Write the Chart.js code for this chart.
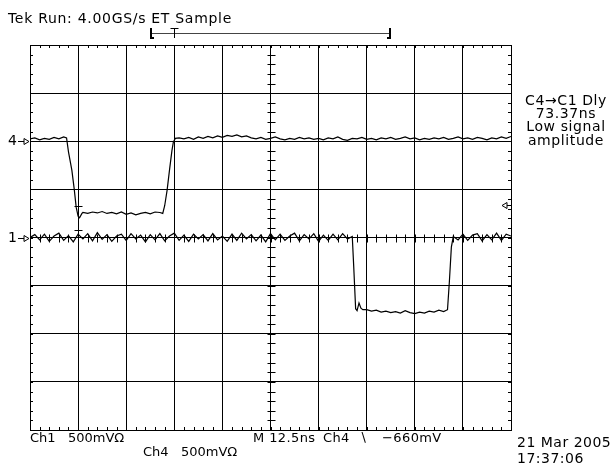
<!DOCTYPE html>
<html>
<head>
<meta charset="utf-8">
<title>Tek scope capture</title>
<script src="https://cdn.jsdelivr.net/npm/chart.js@4.4.0/dist/chart.umd.min.js"></script>
<style>
  html, body { margin: 0; padding: 0; background: #fff; }
  canvas { display: block; }
</style>
</head>
<body>
<canvas id="scope" width="611" height="465"></canvas>
<script>
// time in divisions (12.5 ns/div), level in divisions (500 mV/div)
const ch4Time = [0, 0.1, 0.2, 0.3, 0.4, 0.5, 0.6, 0.7, 0.76, 0.8, 0.87, 0.92, 0.96, 1.0, 1.03, 1.08,
  1.1, 1.2, 1.3, 1.4, 1.5, 1.6, 1.7, 1.8, 1.9, 2.0, 2.1, 2.2, 2.3, 2.4, 2.5, 2.6, 2.7,
  2.76, 2.8, 2.85, 2.9, 2.95, 2.98, 3.02,
  3.1, 3.2, 3.3, 3.4, 3.5, 3.6, 3.7, 3.8, 3.9, 4.0, 4.1, 4.2, 4.3, 4.4, 4.5, 4.6, 4.7, 4.8, 4.9,
  5.0, 5.1, 5.2, 5.3, 5.4, 5.5, 5.6, 5.7, 5.8, 5.9, 6.0, 6.1, 6.2, 6.3, 6.4, 6.5, 6.6, 6.7, 6.8, 6.9,
  7.0, 7.1, 7.2, 7.3, 7.4, 7.5, 7.6, 7.7, 7.8, 7.9, 8.0, 8.1, 8.2, 8.3, 8.4, 8.5, 8.6, 8.7, 8.8, 8.9,
  9.0, 9.1, 9.2, 9.3, 9.4, 9.5, 9.6, 9.7, 9.8, 9.9, 10.0];
const ch4Level = [2.05, 2.07, 2.03, 2.06, 2.04, 2.08, 2.05, 2.09, 2.07, 1.78, 1.40, 1.00, 0.63, 0.44, 0.41, 0.50,
  0.52, 0.50, 0.53, 0.51, 0.54, 0.50, 0.52, 0.49, 0.53, 0.48, 0.51, 0.47, 0.50, 0.52, 0.49, 0.53, 0.52,
  0.50, 0.66, 0.98, 1.40, 1.80, 1.98, 2.06,
  2.07, 2.05, 2.08, 2.04, 2.09, 2.06, 2.10, 2.07, 2.11, 2.08, 2.12, 2.10, 2.13, 2.09, 2.11, 2.07, 2.05, 2.08, 2.04,
  2.06, 2.09, 2.05, 2.03, 2.06, 2.04, 2.08, 2.05, 2.07, 2.04, 2.06, 2.03, 2.07, 2.05, 2.09, 2.04, 2.02, 2.06, 2.05, 2.08,
  2.04, 2.06, 2.03, 2.07, 2.05, 2.08, 2.04, 2.06, 2.09, 2.05, 2.07, 2.03, 2.06, 2.04, 2.07, 2.05, 2.08, 2.04, 2.06, 2.09,
  2.05, 2.07, 2.04, 2.08, 2.06, 2.03, 2.07, 2.05, 2.09, 2.06, 2.10];

const ch1Time = [0, 0.1, 0.2, 0.3, 0.4, 0.5, 0.6, 0.7, 0.8, 0.9, 1.0, 1.1, 1.2, 1.3, 1.4, 1.5, 1.6, 1.7, 1.8, 1.9,
  2.0, 2.1, 2.2, 2.3, 2.4, 2.5, 2.6, 2.7, 2.8, 2.9, 3.0, 3.1, 3.2, 3.3, 3.4, 3.5, 3.6, 3.7, 3.8, 3.9,
  4.0, 4.1, 4.2, 4.3, 4.4, 4.5, 4.6, 4.7, 4.8, 4.9, 5.0, 5.1, 5.2, 5.3, 5.4, 5.5, 5.6, 5.7, 5.8, 5.9,
  6.0, 6.1, 6.2, 6.3, 6.4, 6.5, 6.6, 6.7, 6.73, 6.77, 6.8, 6.84, 6.88, 6.92,
  7.0, 7.1, 7.2, 7.3, 7.4, 7.5, 7.6, 7.7, 7.8, 7.9, 8.0, 8.1, 8.2, 8.3, 8.4, 8.5, 8.6, 8.68, 8.72, 8.76, 8.8,
  8.9, 9.0, 9.1, 9.2, 9.3, 9.4, 9.5, 9.6, 9.7, 9.8, 9.9, 10.0];
const ch1Level = [0.00, 0.06, -0.05, 0.07, -0.08, 0.03, 0.09, -0.06, 0.04, -0.09, 0.07, -0.03, 0.08, -0.07, 0.10, -0.04, 0.06, -0.08, 0.03, 0.07,
  -0.06, 0.08, -0.03, 0.05, -0.09, 0.06, -0.05, 0.08, -0.07, 0.03, 0.09, -0.06, 0.05, -0.08, 0.07, -0.03, 0.06, -0.07, 0.08, -0.05,
  0.03, -0.08, 0.07, -0.06, 0.09, -0.03, 0.06, -0.07, 0.05, -0.09, 0.08, -0.05, 0.07, -0.06, 0.03, 0.09, -0.07, 0.06, -0.03, 0.08,
  -0.08, 0.05, -0.06, 0.07, -0.05, 0.08, -0.03, 0.02, -0.60, -1.48, -1.52, -1.36, -1.47, -1.50,
  -1.50, -1.53, -1.51, -1.55, -1.53, -1.56, -1.54, -1.57, -1.52, -1.56, -1.58, -1.55, -1.57, -1.53, -1.55, -1.51, -1.54, -1.50, -0.90, -0.20, 0.02,
  -0.05, 0.07, -0.06, 0.05, 0.08, -0.07, 0.06, -0.05, 0.09, -0.06, 0.07, 0.03];

const xTicks = [0, 1, 2, 3, 4, 5, 6, 7, 8, 9, 10];
const yTicks = [-4, -3, -2, -1, 0, 1, 2, 3, 4];
const ch4Ground = 2;
const ch1Ground = 0;
const trigLevel = 0.68;
const trigPos = 3.0;

const FONT = '"DejaVu Sans", sans-serif';

function toPoints(ts, vs) {
  return ts.map((t, i) => ({ x: t, y: vs[i] }));
}

function text(ctx, s, x, y, size, spacing) {
  ctx.font = size + 'px ' + FONT;
  ctx.letterSpacing = spacing + 'px';
  ctx.fillText(s, x, y);
}

// graticule minor ticks (every 0.2 div on edges and centre lines)
const graticule = {
  id: 'graticule',
  beforeDatasetsDraw(chart) {
    const { ctx, chartArea: a, scales: { x, y } } = chart;
    const cx = Math.round(x.getPixelForValue(5)) + 0.5;
    const cy = Math.round(y.getPixelForValue(0)) + 0.5;
    ctx.save();
    ctx.strokeStyle = '#000';
    ctx.lineWidth = 1;
    ctx.beginPath();
    for (let k = 1; k < 50; k++) {
      const px = Math.round(x.getPixelForValue(k * 0.2)) + 0.5;
      ctx.moveTo(px, a.top); ctx.lineTo(px, a.top + 3);
      ctx.moveTo(px, a.bottom); ctx.lineTo(px, a.bottom - 3);
      ctx.moveTo(px, cy - 4); ctx.lineTo(px, cy + 4);
    }
    for (let k = 1; k < 40; k++) {
      const py = Math.round(y.getPixelForValue(-4 + k * 0.2)) + 0.5;
      ctx.moveTo(a.left, py); ctx.lineTo(a.left + 3, py);
      ctx.moveTo(a.right, py); ctx.lineTo(a.right - 3, py);
      ctx.moveTo(cx - 4, py); ctx.lineTo(cx + 4, py);
    }
    ctx.stroke();
    ctx.restore();
  }
};

// readouts and markers around the graticule
const readouts = {
  id: 'readouts',
  afterDraw(chart) {
    const { ctx, chartArea: a, scales: { x, y } } = chart;
    ctx.save();
    ctx.fillStyle = '#000';
    ctx.strokeStyle = '#000';
    ctx.lineWidth = 1;
    ctx.textBaseline = 'alphabetic';
    ctx.textAlign = 'left';
    text(ctx, 'Tek Run: 4.00GS/s ET Sample', 8, 23, 14, 0.7);

    // record window bracket + trigger position
    const tx = Math.round(x.getPixelForValue(trigPos)) + 0.5;
    ctx.strokeStyle = '#444';
    ctx.beginPath();
    ctx.moveTo(151, 33.5); ctx.lineTo(390, 33.5);
    ctx.stroke();
    ctx.strokeStyle = '#000';
    ctx.lineWidth = 2;
    ctx.beginPath();
    ctx.moveTo(151, 28); ctx.lineTo(151, 39);
    ctx.moveTo(151, 38); ctx.lineTo(154, 38);
    ctx.moveTo(390, 28); ctx.lineTo(390, 39);
    ctx.moveTo(390, 38); ctx.lineTo(387, 38);
    ctx.stroke();
    ctx.lineWidth = 1;
    ctx.beginPath();
    ctx.moveTo(tx - 4, 28.5); ctx.lineTo(tx + 4, 28.5);
    ctx.moveTo(tx, 28); ctx.lineTo(tx, 38);
    ctx.stroke();

    // channel ground markers
    [[ '4', ch4Ground ], [ '1', ch1Ground ]].forEach(([lab, lv]) => {
      const py = Math.round(y.getPixelForValue(lv)) + 0.5;
      ctx.textBaseline = 'middle';
      text(ctx, lab, 8, py, 14, 0);
      ctx.beginPath();
      ctx.moveTo(18, py); ctx.lineTo(24, py);
      ctx.moveTo(24, py - 3); ctx.lineTo(29, py); ctx.lineTo(24, py + 3); ctx.closePath();
      ctx.stroke();
    });

    // trigger level marker
    const ly = Math.round(y.getPixelForValue(trigLevel)) + 0.5;
    ctx.beginPath();
    ctx.moveTo(a.right - 9, ly); ctx.lineTo(a.right - 4, ly - 3); ctx.lineTo(a.right - 4, ly + 3); ctx.closePath();
    ctx.moveTo(a.right - 4, ly); ctx.lineTo(a.right, ly);
    ctx.stroke();

    // cursor marks
    const mx = Math.round(x.getPixelForValue(1.0)) + 0.5;
    const m4 = Math.round(y.getPixelForValue(0.65)) + 0.5;
    const m1 = Math.round(y.getPixelForValue(0.15)) + 0.5;
    ctx.beginPath();
    ctx.moveTo(mx - 4, m4); ctx.lineTo(mx + 4, m4);
    ctx.moveTo(mx, m4 - 3); ctx.lineTo(mx, m4 + 8);
    ctx.moveTo(mx - 4, m1); ctx.lineTo(mx + 4, m1);
    ctx.moveTo(mx, m1); ctx.lineTo(mx, m1 + 8);
    ctx.stroke();

    // right side measurement readout
    ctx.textBaseline = 'alphabetic';
    ctx.textAlign = 'center';
    text(ctx, 'C4\u2192C1 Dly', 566, 105, 14, 0.6);
    text(ctx, '73.37ns', 566, 118, 14, 0.6);
    text(ctx, 'Low signal', 566, 131, 14, 0.6);
    text(ctx, 'amplitude', 566, 145, 14, 0.6);

    // bottom readouts
    ctx.textAlign = 'left';
    text(ctx, 'Ch1   500mV\u03a9', 30, 442, 13, 0);
    text(ctx, 'Ch4   500mV\u03a9', 143, 456, 13, 0);
    text(ctx, 'M 12.5ns', 253, 442, 13, 0.4);
    text(ctx, 'Ch4', 323, 442, 13, 0.4);
    text(ctx, '\u2216', 359, 442, 13, 0);
    text(ctx, '\u2212660mV', 382, 442, 13, 0.4);
    text(ctx, '21 Mar 2005', 517, 447, 14, 0.5);
    text(ctx, '17:37:06', 517, 463, 14, 0.5);
    ctx.restore();
  }
};

new Chart(document.getElementById('scope'), {
  type: 'scatter',
  data: {
    datasets: [
      {
        label: 'Ch4',
        data: toPoints(ch4Time, ch4Level),
        showLine: true,
        borderColor: '#000',
        borderWidth: 1.2,
        pointRadius: 0,
        tension: 0
      },
      {
        label: 'Ch1',
        data: toPoints(ch1Time, ch1Level),
        showLine: true,
        borderColor: '#000',
        borderWidth: 1.2,
        pointRadius: 0,
        tension: 0
      }
    ]
  },
  options: {
    responsive: false,
    animation: false,
    devicePixelRatio: 1,
    layout: { padding: { left: 30, top: 45, right: 100, bottom: 35 } },
    plugins: { legend: { display: false }, tooltip: { enabled: false } },
    scales: {
      x: {
        type: 'linear', min: 0, max: 10,
        afterBuildTicks: (s) => { s.ticks = xTicks.map(v => ({ value: v })); },
        ticks: { display: false },
        grid: { color: '#000', lineWidth: 1, drawTicks: false },
        border: { color: '#000', width: 1 }
      },
      y: {
        type: 'linear', min: -4, max: 4,
        afterBuildTicks: (s) => { s.ticks = yTicks.map(v => ({ value: v })); },
        ticks: { display: false },
        grid: { color: '#000', lineWidth: 1, drawTicks: false },
        border: { color: '#000', width: 1 }
      }
    }
  },
  plugins: [graticule, readouts]
});
</script>
</body>
</html>
